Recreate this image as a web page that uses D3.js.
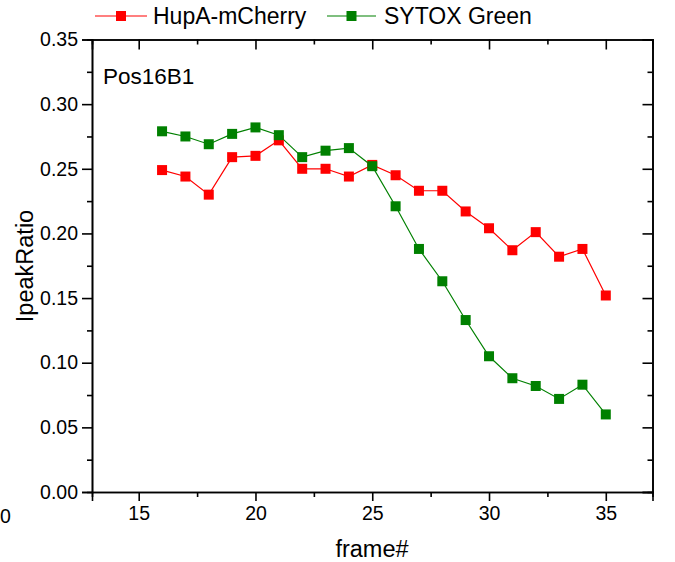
<!DOCTYPE html>
<html><head><meta charset="utf-8">
<script src="https://cdn.jsdelivr.net/npm/d3@7"></script>
<style>body{margin:0;background:#fff}svg{display:block}text{font-family:"Liberation Sans",Arial,sans-serif}</style>
</head><body>
<script>
const frames = [16,17,18,19,20,21,22,23,24,25,26,27,28,29,30,31,32,33,34,35];
const hupA = [0.249,0.244,0.230,0.259,0.260,0.272,0.250,0.250,0.244,0.253,0.245,0.233,0.233,0.217,0.204,0.187,0.201,0.182,0.188,0.152];
const sytox = [0.279,0.275,0.269,0.277,0.282,0.276,0.259,0.264,0.266,0.252,0.221,0.188,0.163,0.133,0.105,0.088,0.082,0.072,0.083,0.060];
const xTicks = [15,20,25,30,35];
const xMinor = [17.5,22.5,27.5,32.5];
const yTicks = [0,0.05,0.10,0.15,0.20,0.25,0.30,0.35];
const yMinor = [0.025,0.075,0.125,0.175,0.225,0.275,0.325];
const seriesNames = ["HupA-mCherry","SYTOX Green"];
const colors = ["#ff0000","#008000"];

const W=675,H=562;
const svg=d3.select("body").append("svg").attr("width",W).attr("height",H);
const x=d3.scaleLinear().domain([13,37]).range([92,652.5]);
const y=d3.scaleLinear().domain([0,0.35]).range([492,39.5]);
const fmt=d3.format(".2f");

// bottom axis
const gB=svg.append("g").attr("transform",`translate(0,${y(0)})`);
gB.call(d3.axisBottom(x).tickValues(xTicks).tickSize(9).tickPadding(5).tickFormat(d3.format("d")));
gB.append("g").call(d3.axisBottom(x).tickValues(xMinor).tickSize(5).tickFormat(""));
// top axis
const gT=svg.append("g").attr("transform",`translate(0,${y(0.35)})`);
gT.call(d3.axisBottom(x).tickValues(xTicks).tickSize(10).tickFormat(""));
gT.append("g").call(d3.axisBottom(x).tickValues(xMinor).tickSize(5).tickFormat(""));
// left axis
const gL=svg.append("g").attr("transform",`translate(${x(13)},0)`);
gL.call(d3.axisLeft(y).tickValues(yTicks).tickSize(10).tickPadding(4).tickFormat(fmt));
gL.append("g").call(d3.axisLeft(y).tickValues(yMinor).tickSize(5).tickFormat(""));
// right axis
const gR=svg.append("g").attr("transform",`translate(${x(37)},0)`);
gR.call(d3.axisLeft(y).tickValues(yTicks).tickSize(10).tickFormat(""));
gR.append("g").call(d3.axisLeft(y).tickValues(yMinor).tickSize(5).tickFormat(""));

svg.selectAll(".domain").attr("stroke","#000").attr("stroke-width",1.6);
svg.selectAll(".tick line").attr("stroke","#000").attr("stroke-width",1.6);
svg.selectAll(".tick text").attr("font-size",19.5).attr("fill","#000").attr("font-family","'Liberation Sans',Arial,sans-serif");
// clipped "10" label remnant at the far left
svg.append("text").attr("x",0).attr("y",523).attr("font-size",19.5).text("0");

// series
const sets=[hupA,sytox];
sets.forEach((vals,i)=>{
  const pts=frames.map((f,j)=>[f,vals[j]]);
  svg.append("path").datum(pts).attr("fill","none").attr("stroke",colors[i]).attr("stroke-width",1.2)
    .attr("d",d3.line().x(d=>x(d[0])).y(d=>y(d[1])));
});
sets.forEach((vals,i)=>{
  svg.append("g").selectAll("rect").data(frames.map((f,j)=>[f,vals[j]])).join("rect")
    .attr("x",d=>x(d[0])-5).attr("y",d=>y(d[1])-5).attr("width",10).attr("height",10)
    .attr("fill",colors[i]);
});

// legend
const leg=[{x0:95,x1:147,tx:153},{x0:327,x1:376,tx:384}];
leg.forEach((l,i)=>{
  const g=svg.append("g");
  g.append("line").attr("x1",l.x0).attr("x2",l.x1).attr("y1",16).attr("y2",16).attr("stroke",colors[i]).attr("stroke-width",1.2);
  g.append("rect").attr("x",(l.x0+l.x1)/2-5).attr("y",11).attr("width",10).attr("height",10).attr("fill",colors[i]);
  g.append("text").attr("x",l.tx).attr("y",24).attr("font-size",23).text(seriesNames[i]);
});

// annotation and titles
svg.append("text").attr("x",103).attr("y",84).attr("font-size",22.5).text("Pos16B1");
svg.append("text").attr("x",372).attr("y",557).attr("text-anchor","middle").attr("font-size",23.5).text("frame#");
svg.append("text").attr("transform","translate(33,266) rotate(-90)").attr("text-anchor","middle").attr("font-size",23.5).text("IpeakRatio");
</script>
</body></html>
